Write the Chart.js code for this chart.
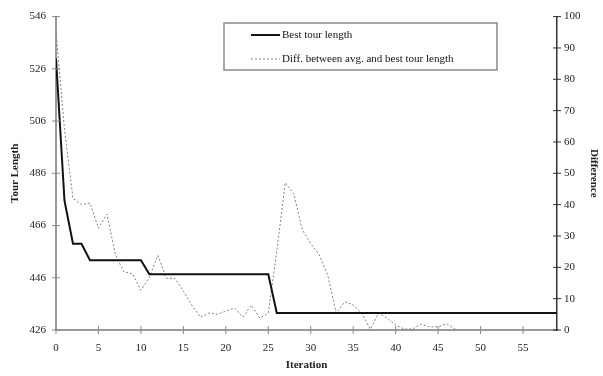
<!DOCTYPE html>
<html>
<head>
<meta charset="utf-8">
<script src="https://cdn.jsdelivr.net/npm/chart.js@4.4.0/dist/chart.umd.min.js"></script>
<style>
  html, body { margin: 0; background: #fff; }
</style>
</head>
<body>
<canvas id="myChart" width="603" height="376"></canvas>
<script>
// iteration numbers (x)
const iterations = [0, 1, 2, 3, 4, 5, 6, 7, 8, 9, 10, 11, 12, 13, 14, 15, 16, 17, 18, 19,
  20, 21, 22, 23, 24, 25, 26, 27, 28, 29, 30, 31, 32, 33, 34, 35, 36, 37, 38, 39,
  40, 41, 42, 43, 44, 45, 46, 47, 48, 49, 50, 51, 52, 53, 54, 55, 56, 57, 58, 59];

// best tour length (left axis)
const bestTour = [530, 475.5, 459, 459, 452.7, 452.7, 452.7, 452.7, 452.7, 452.7,
  452.7, 447.3, 447.3, 447.3, 447.3, 447.3, 447.3, 447.3, 447.3, 447.3,
  447.3, 447.3, 447.3, 447.3, 447.3, 447.3, 432.5, 432.5, 432.5, 432.5,
  432.5, 432.5, 432.5, 432.5, 432.5, 432.5, 432.5, 432.5, 432.5, 432.5,
  432.5, 432.5, 432.5, 432.5, 432.5, 432.5, 432.5, 432.5, 432.5, 432.5,
  432.5, 432.5, 432.5, 432.5, 432.5, 432.5, 432.5, 432.5, 432.5, 432.5];

// diff between avg. and best tour length (right axis)
const diffAvgBest = [95, 64, 42, 40, 40.5, 32.5, 37, 24, 18.5, 18,
  12.7, 16.8, 23.8, 16.5, 16.5, 12.4, 7.9, 4.1, 5.4, 5,
  6, 7, 4.1, 7.9, 3.8, 5.4, 25, 47, 43.5, 32,
  27.6, 24, 17.5, 5.4, 9, 8, 5.4, 0.3, 5.4, 3.8,
  1.6, 0.3, 0.3, 1.9, 1, 1, 2, 0.3];

const leftTicks = [426, 446, 466, 486, 506, 526, 546];
const rightTicks = [0, 10, 20, 30, 40, 50, 60, 70, 80, 90, 100];
const xTicks = [0, 5, 10, 15, 20, 25, 30, 35, 40, 45, 50, 55];

const serif = "'Liberation Serif', 'Times New Roman', serif";

// tick marks that cross the axis line
const crossTicks = {
  id: 'crossTicks',
  afterDraw(chart) {
    const ctx = chart.ctx;
    ctx.save();
    ctx.lineWidth = 1;
    for (const id of ['x', 'y', 'y1']) {
      const s = chart.scales[id];
      ctx.strokeStyle = id === 'y1' ? '#333' : '#888';
      for (const t of s.ticks) {
        const p = s.getPixelForValue(t.value);
        ctx.beginPath();
        if (id === 'x') {
          ctx.moveTo(p, s.top - 4); ctx.lineTo(p, s.top + 4);
        } else if (id === 'y') {
          ctx.moveTo(s.right - 4, p); ctx.lineTo(s.right + 4, p);
        } else {
          ctx.moveTo(s.left - 4, p); ctx.lineTo(s.left + 4, p);
        }
        ctx.stroke();
      }
    }
    ctx.restore();
  }
};

// boxed legend inside the plot
const legendBox = {
  id: 'legendBox',
  afterDraw(chart) {
    const ctx = chart.ctx;
    const ds = chart.data.datasets;
    ctx.save();
    ctx.fillStyle = '#fff';
    ctx.fillRect(224, 23, 273, 47);
    ctx.strokeStyle = '#8a8a8a';
    ctx.lineWidth = 1.5;
    ctx.strokeRect(224, 23, 273, 47);
    ctx.font = '11px ' + serif;
    ctx.textBaseline = 'middle';
    ds.forEach((d, i) => {
      const y = 35 + i * 24;
      ctx.strokeStyle = d.borderColor;
      ctx.lineWidth = d.borderWidth;
      ctx.setLineDash(d.borderDash || []);
      ctx.beginPath();
      ctx.moveTo(251, y); ctx.lineTo(280, y);
      ctx.stroke();
      ctx.setLineDash([]);
      ctx.fillStyle = '#111';
      ctx.fillText(d.label, 282, y);
    });
    ctx.restore();
  }
};

const ctx = document.getElementById('myChart').getContext('2d');
new Chart(ctx, {
  type: 'line',
  data: {
    datasets: [{
      label: 'Best tour length',
      data: bestTour.map((v, i) => ({ x: iterations[i], y: v })),
      borderColor: '#111',
      borderWidth: 2,
      pointRadius: 0,
      tension: 0,
      yAxisID: 'y'
    }, {
      label: 'Diff. between avg. and best tour length',
      data: diffAvgBest.map((v, i) => ({ x: iterations[i], y: v })),
      borderColor: '#808080',
      borderWidth: 1,
      borderDash: [2, 2],
      pointRadius: 0,
      tension: 0,
      yAxisID: 'y1'
    }]
  },
  options: {
    responsive: false,
    animation: false,
    layout: { padding: { top: 15, left: 0, right: 0, bottom: 0 } },
    plugins: { legend: { display: false }, tooltip: { enabled: false } },
    scales: {
      x: {
        type: 'linear',
        min: 0,
        max: 59,
        afterBuildTicks: s => { s.ticks = xTicks.map(v => ({ value: v })); },
        afterFit: s => { s.height = 46; },
        grid: { drawOnChartArea: false, drawTicks: false },
        border: { color: '#999', width: 2 },
        ticks: { color: '#222', padding: 12, maxRotation: 0, font: { family: serif, size: 11 } },
        title: { display: true, text: 'Iteration', color: '#222', padding: { top: 8 }, font: { family: serif, size: 11, weight: 'bold' } }
      },
      y: {
        position: 'left',
        min: 426,
        max: 546,
        afterBuildTicks: s => { s.ticks = leftTicks.map(v => ({ value: v })); },
        afterFit: s => { s.width = 56; },
        grid: { drawOnChartArea: false, drawTicks: false },
        border: { color: '#999', width: 2 },
        ticks: { color: '#222', padding: 10, font: { family: serif, size: 11 } },
        title: { display: true, text: 'Tour Length', color: '#222', padding: { top: 9 }, font: { family: serif, size: 11, weight: 'bold' } }
      },
      y1: {
        position: 'right',
        min: 0,
        max: 100,
        afterBuildTicks: s => { s.ticks = rightTicks.map(v => ({ value: v })); },
        afterFit: s => { s.width = 46; },
        grid: { drawOnChartArea: false, drawTicks: false },
        border: { color: '#333', width: 1.5 },
        ticks: { color: '#222', padding: 7, font: { family: serif, size: 11 } },
        title: { display: true, text: 'Difference', color: '#222', padding: { top: 3 }, font: { family: serif, size: 11, weight: 'bold' } }
      }
    }
  },
  plugins: [crossTicks, legendBox]
});
</script>
</body>
</html>
